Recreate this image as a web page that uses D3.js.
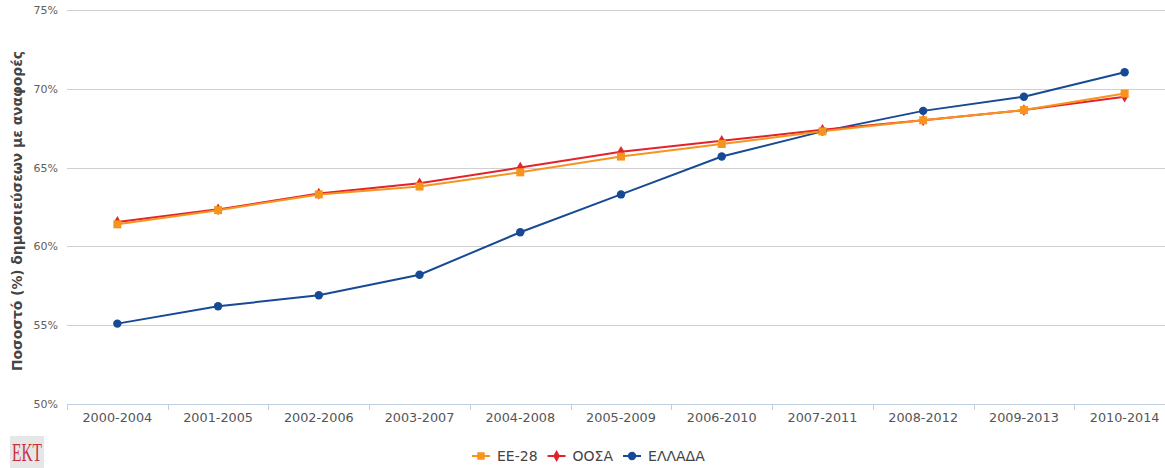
<!DOCTYPE html>
<html>
<head>
<meta charset="utf-8">
<script src="https://cdn.jsdelivr.net/npm/d3@7"></script>
<style>
  body { margin: 0; background: #fff; }
  svg { font-family: 'DejaVu Sans', sans-serif; }
</style>
</head>
<body>
<svg width="1165" height="468"></svg>
<script>
// Data
var periods = ['2000-2004', '2001-2005', '2002-2006', '2003-2007', '2004-2008', '2005-2009',
  '2006-2010', '2007-2011', '2008-2012', '2009-2013', '2010-2014']
var ee28 = [61.4, 62.3, 63.3, 63.8, 64.7, 65.7, 66.5, 67.3, 68.0, 68.65, 69.7]
var oosa = [61.55, 62.35, 63.35, 64.0, 65.0, 66.0, 66.7, 67.4, 68.0, 68.65, 69.5]
var ellada = [55.1, 56.2, 56.9, 58.2, 60.9, 63.3, 65.7, 67.3, 68.6, 69.5, 71.05]
var yTicks = [50, 55, 60, 65, 70, 75]

var series = [
  { name: 'ΕΕ-28', values: ee28, color: '#f7941d', symbol: d3.symbolSquare },
  { name: 'ΟΟΣΑ', values: oosa, color: '#e3232b', symbol: d3.symbolDiamond },
  { name: 'ΕΛΛΑΔΑ', values: ellada, color: '#174a94', symbol: d3.symbolCircle }
]

var svg = d3.select('svg')

var x = d3.scaleBand().domain(periods).range([67, 1175])
var y = d3.scaleLinear().domain([50, 75]).range([404, 10])

// grid
svg.append('g')
  .selectAll('line')
  .data(yTicks.slice(1))
  .enter()
  .append('line')
  .attr('x1', 67)
  .attr('x2', 1165)
  .attr('y1', function(d) { return Math.round(y(d)) + 0.5 })
  .attr('y2', function(d) { return Math.round(y(d)) + 0.5 })
  .attr('stroke', '#d0d0d0')

// y labels
svg.append('g')
  .selectAll('text')
  .data(yTicks)
  .enter()
  .append('text')
  .attr('x', 58)
  .attr('y', function(d) { return y(d) + 4 })
  .attr('text-anchor', 'end')
  .attr('fill', '#606060')
  .attr('font-size', 11)
  .text(function(d) { return d + '%' })

// x axis
var xAxis = svg.append('g')
xAxis.append('line')
  .attr('x1', 67).attr('x2', 1165)
  .attr('y1', 404.5).attr('y2', 404.5)
  .attr('stroke', '#c0d0e0')
xAxis.selectAll('.tick')
  .data(periods)
  .enter()
  .append('line')
  .attr('x1', function(d) { return Math.round(x(d)) + 0.5 })
  .attr('x2', function(d) { return Math.round(x(d)) + 0.5 })
  .attr('y1', 404).attr('y2', 410)
  .attr('stroke', '#c0d0e0')
xAxis.selectAll('text')
  .data(periods)
  .enter()
  .append('text')
  .attr('x', function(d) { return x(d) + x.bandwidth() / 2 })
  .attr('y', 422)
  .attr('text-anchor', 'middle')
  .attr('fill', '#555')
  .attr('font-size', 12.8)
  .text(function(d) { return d })

// y title
svg.append('text')
  .attr('transform', 'translate(22,211) rotate(-90)')
  .attr('text-anchor', 'middle')
  .attr('fill', '#444')
  .attr('font-size', 13.8)
  .attr('font-weight', 'bold')
  .text('Ποσοστό (%) δημοσιεύσεων με αναφορές')

// lines
var line = d3.line()
  .x(function(d, i) { return x(periods[i]) + x.bandwidth() / 2 })
  .y(function(d) { return y(d) })

var g = svg.append('g')
series.slice().reverse().forEach(function(s) {
  g.append('path')
    .attr('d', line(s.values))
    .attr('fill', 'none')
    .attr('stroke', s.color)
    .attr('stroke-width', 2)
})
series.slice().reverse().forEach(function(s) {
  var size = s.symbol === d3.symbolDiamond ? 40 : (s.symbol === d3.symbolSquare ? 64 : 56)
  g.selectAll(null)
    .data(s.values)
    .enter()
    .append('path')
    .attr('transform', function(d, i) {
      return 'translate(' + (x(periods[i]) + x.bandwidth() / 2) + ',' + y(d) + ')'
    })
    .attr('d', d3.symbol().type(s.symbol).size(size))
    .attr('fill', s.color)
})

// legend
var legend = svg.append('g').attr('transform', 'translate(472,456)')
var lx = 0
series.forEach(function(s) {
  var item = legend.append('g').attr('transform', 'translate(' + lx + ',0)')
  item.append('line')
    .attr('x1', 0).attr('x2', 18)
    .attr('stroke', s.color).attr('stroke-width', 2)
  item.append('path')
    .attr('transform', 'translate(9,0)')
    .attr('d', d3.symbol().type(s.symbol).size(s.symbol === d3.symbolDiamond ? 40 : 56))
    .attr('fill', s.color)
  var t = item.append('text')
    .attr('x', 25).attr('y', 5)
    .attr('fill', '#444')
    .attr('font-size', 14)
    .text(s.name)
  lx += 25 + t.node().getComputedTextLength() + 10
})

// logo
var logo = svg.append('g').attr('transform', 'translate(10,436)')
logo.append('rect').attr('width', 34).attr('height', 32).attr('fill', '#e6e6e6')
logo.append('text')
  .attr('x', 17).attr('y', 25)
  .attr('text-anchor', 'middle')
  .attr('font-family', "'Liberation Serif', serif")
  .attr('font-size', 25)
  .attr('fill', '#c8323c')
  .attr('textLength', 30)
  .attr('lengthAdjust', 'spacingAndGlyphs')
  .text('EKT')
</script>
</body>
</html>
